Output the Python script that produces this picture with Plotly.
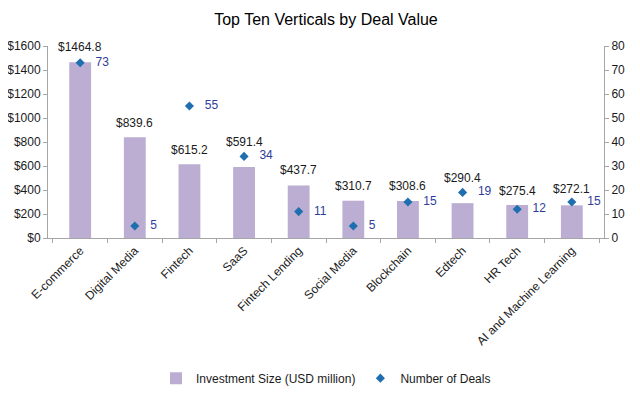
import plotly.graph_objects as go

categories = ["E-commerce", "Digital Media", "Fintech", "SaaS", "Fintech Lending",
              "Social Media", "Blockchain", "Edtech", "HR Tech", "AI and Machine Learning"]
investment = [1464.8, 839.6, 615.2, 591.4, 437.7, 310.7, 308.6, 290.4, 275.4, 272.1]
deals = [73, 5, 55, 34, 11, 5, 15, 19, 12, 15]
left_ticks = [0, 200, 400, 600, 800, 1000, 1200, 1400, 1600]
right_ticks = [0, 10, 20, 30, 40, 50, 60, 70, 80]

# label placement offsets (px above bar top), styling only
label_lift = [6, 5, 5, 16, 6, 6, 6, 16, 5, 7]

FONT = "Liberation Sans, Arial, sans-serif"

fig = go.Figure()
fig.add_trace(go.Bar(
    x=categories, y=investment, name="Investment Size (USD million)",
    marker=dict(color="#BCAED2", line=dict(width=0)), width=0.4,
))
fig.add_trace(go.Scatter(
    x=categories, y=deals, name="Number of Deals", yaxis="y2",
    mode="markers+text", marker=dict(symbol="diamond", size=7, color="#1F6EB0"),
    text=["\u00a0\u00a0\u00a0" + str(v) for v in deals], textposition="middle right",
    textfont=dict(size=12, color="#2E3D9A", family=FONT), cliponaxis=False,
))

for cat, val, lift in zip(categories, investment, label_lift):
    fig.add_annotation(x=cat, y=val, xref="x", yref="y", text="$%.1f" % val,
                       showarrow=False, yanchor="bottom", yshift=lift,
                       font=dict(size=12, color="#1a1a1a", family=FONT))

axis_line = dict(showline=True, linecolor="#A6A6A6", linewidth=1, ticks="outside",
                 tickcolor="#A6A6A6", ticklen=4, showgrid=False, zeroline=False,
                 automargin=False)

fig.update_layout(
    width=640, height=394,
    margin=dict(l=40, r=44, t=38, b=164, autoexpand=False),
    paper_bgcolor="white", plot_bgcolor="white",
    font=dict(family=FONT, size=12, color="#1a1a1a"),
    title=dict(text="Top Ten Verticals by Deal Value", x=0.5, xanchor="center",
               xref="paper", y=0.97, yanchor="middle",
               font=dict(size=16, color="#000000")),
    bargap=0.6,
    xaxis=dict(tickangle=-45, **axis_line, tickfont=dict(size=12)),
    yaxis=dict(range=[0, 1600], tickvals=left_ticks,
               ticktext=["$%d" % v for v in left_ticks], **axis_line,
               tickfont=dict(size=12)),
    yaxis2=dict(range=[0, 80], tickvals=right_ticks, overlaying="y", side="right",
                **axis_line, tickfont=dict(size=12)),
    showlegend=True,
    legend=dict(orientation="h", x=0.5, xanchor="center", y=-0.73, yanchor="middle",
                font=dict(size=12), itemwidth=30),
)
fig.update_xaxes(ticks="outside", tickson="boundaries")

fig.write_html("out.html")
